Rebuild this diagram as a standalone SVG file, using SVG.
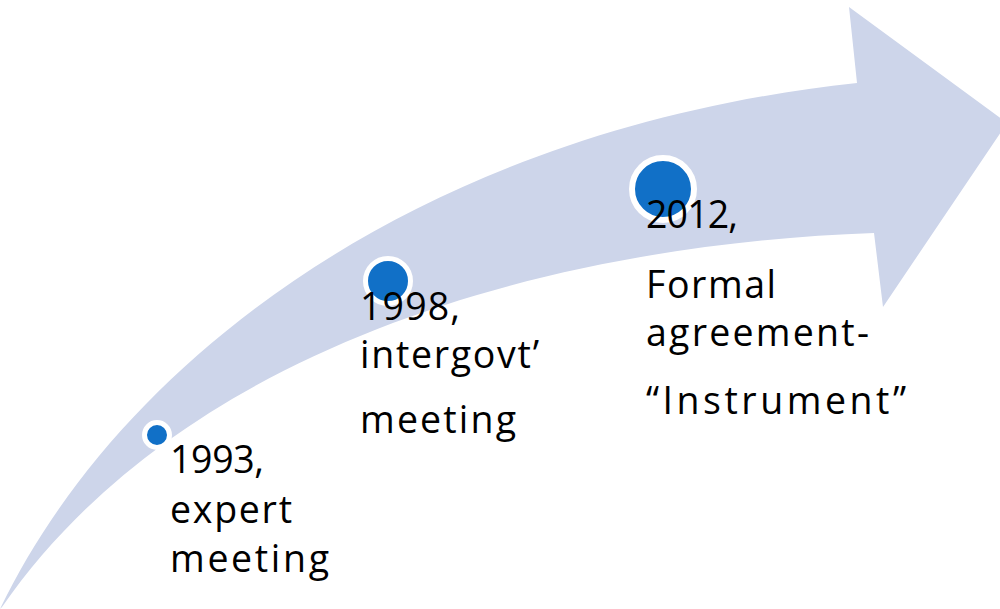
<svg xmlns="http://www.w3.org/2000/svg" width="1000" height="609" viewBox="0 0 1000 609">
  <style>
    .arrow { fill: #cdd5ea; stroke: none; }
    .dot { fill: #1170c7; stroke: #ffffff; }
    .lbl { font-family: "Open Sans", "Noto Sans", "Liberation Sans", sans-serif; font-size: 37.5px; fill: #000000; }
  </style>
  <rect width="1000" height="609" fill="#ffffff"/>
  <g id="arrow">
    <path class="arrow" d="M 0,609 C 120,360 420,130 857,83 L 849,7 L 1007,123 L 883,307 L 874,233 C 540,245 180,350 2,607 Z"/>
  </g>
  <g id="connectors"></g>
  <g id="node-1993">
    <circle class="dot" cx="157" cy="435" r="12.5" stroke-width="5"/>
    <text class="lbl" x="170" y="473" textLength="94" lengthAdjust="spacing">1993,</text>
    <text class="lbl" x="170" y="523" textLength="122" lengthAdjust="spacing">expert</text>
    <text class="lbl" x="170" y="572" textLength="159" lengthAdjust="spacing">meeting</text>
  </g>
  <g id="node-1998">
    <circle class="dot" cx="388" cy="281" r="22.5" stroke-width="5"/>
    <text class="lbl" x="360" y="320" textLength="100" lengthAdjust="spacing">1998,</text>
    <text class="lbl" x="360" y="368" textLength="179" lengthAdjust="spacing">intergovt’</text>
    <text class="lbl" x="360" y="433" textLength="156" lengthAdjust="spacing">meeting</text>
  </g>
  <g id="node-2012">
    <circle class="dot" cx="663" cy="189" r="31" stroke-width="6"/>
    <text class="lbl" x="646" y="228" textLength="92" lengthAdjust="spacing">2012,</text>
    <text class="lbl" x="646" y="298" textLength="130" lengthAdjust="spacing">Formal</text>
    <text class="lbl" x="646" y="346" textLength="223" lengthAdjust="spacing">agreement-</text>
    <text class="lbl" x="646" y="414" textLength="260" lengthAdjust="spacing">“Instrument”</text>
  </g>
</svg>
